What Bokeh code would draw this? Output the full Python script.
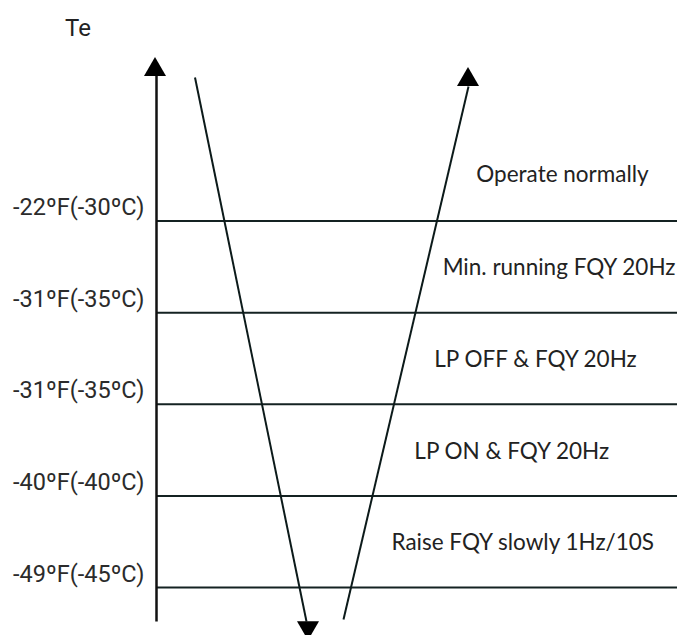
from bokeh.plotting import figure
from bokeh.models import Range1d
from bokeh.core.properties import value
from bokeh.embed import file_html
from bokeh.resources import INLINE

# ---------------- data ----------------
axis_title = "Te"
threshold_labels = ["-22ºF(-30ºC)", "-31ºF(-35ºC)", "-31ºF(-35ºC)", "-40ºF(-40ºC)", "-49ºF(-45ºC)"]
threshold_levels = [5, 4, 3, 2, 1]
zone_labels = ["Operate normally", "Min. running FQY 20Hz", "LP OFF & FQY 20Hz",
               "LP ON & FQY 20Hz", "Raise FQY slowly 1Hz/10S"]
zone_levels = [5.52, 4.5, 3.5, 2.5, 1.5]

# ---------------- layout ----------------
W, H = 677, 635
PX_PER_LEVEL = 91.625
TOP_LINE_PX = 220.5          # pixel y of the top threshold line
TOP_LEVEL = 5


def lv(py):
    """pixel y (from top) -> level units"""
    return TOP_LEVEL - (py - TOP_LINE_PX) / PX_PER_LEVEL


AXIS_X = 156
LINE_END_X = 690
LABEL_X = 144
zone_x = [562, 559, 536, 512, 523]

p = figure(width=W, height=H, output_backend="svg", toolbar_location=None,
           x_range=Range1d(0, W), y_range=Range1d(lv(H), lv(0)),
           min_border=0, outline_line_color=None)
p.axis.visible = False
p.grid.visible = False
p.background_fill_color = "white"
p.border_fill_color = "white"

# threshold lines
p.segment(x0=[AXIS_X] * len(threshold_levels), x1=[LINE_END_X] * len(threshold_levels),
          y0=threshold_levels, y1=threshold_levels, line_color="#142222", line_width=2)

# vertical axis with arrow head
p.segment(x0=[AXIS_X], x1=[AXIS_X], y0=[lv(621)], y1=[lv(72)], line_color="#111111", line_width=2.5)
p.scatter(x=[AXIS_X - 1.5], y=[lv(75.5 - 19.05 / 3)], marker="triangle", size=22,
          fill_color="black", line_color="black", line_width=0)

# descending line with arrow down
p.segment(x0=[194.5], x1=[306], y0=[lv(77)], y1=[lv(621)], line_color="#0c1a1a", line_width=2)
p.scatter(x=[307.5], y=[lv(620.7 + 19.05 / 3)], marker="inverted_triangle", size=22,
          fill_color="black", line_color="black", line_width=0)

# ascending line with arrow up
p.segment(x0=[343], x1=[468], y0=[lv(619)], y1=[lv(86)], line_color="#0c1a1a", line_width=2)
p.scatter(x=[467.5], y=[lv(85.5 - 19.05 / 3)], marker="triangle", size=22,
          fill_color="black", line_color="black", line_width=0)

# threshold labels
p.text(x=[LABEL_X] * len(threshold_labels), y=threshold_levels, text=threshold_labels,
       text_align="right", text_baseline="middle", y_offset=-14,
       text_font=value("Roboto"), text_font_size="23.5px", text_color="#2b2b2b")

# zone descriptions
p.text(x=zone_x, y=zone_levels, text=zone_labels, text_align="center", text_baseline="middle",
       text_font=value("Lato"), text_font_size="22.5px", text_color="#222222")

# axis title
p.text(x=[77.5], y=[lv(27)], text=[axis_title], text_align="center", text_baseline="middle",
       text_font=value("Roboto"), text_font_size="24px", text_color="#222222")

open("out.html", "w").write(file_html(p, INLINE))
